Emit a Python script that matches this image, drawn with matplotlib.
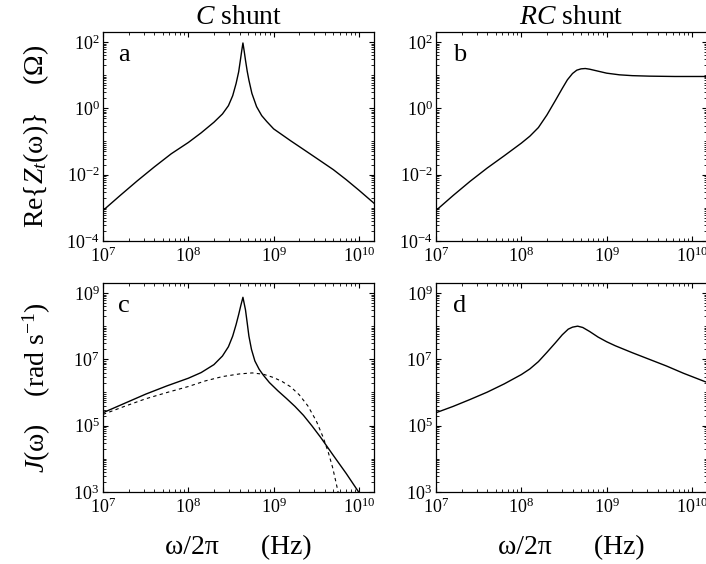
import matplotlib
matplotlib.use('Agg')
import matplotlib.pyplot as plt
import numpy as np
from matplotlib.ticker import FixedLocator, LogLocator, NullFormatter

plt.rcParams['font.family'] = 'Liberation Serif'
plt.rcParams['mathtext.fontset'] = 'custom'
plt.rcParams['mathtext.rm'] = 'Liberation Serif'
plt.rcParams['mathtext.it'] = 'Liberation Serif:italic'

# values, stored as decimal exponents (log10)
# panel a: C shunt, Re{Z_t} (Ohm) vs frequency (Hz)
logf_a = [7.0, 7.2, 7.4, 7.6, 7.8, 8.0, 8.15, 8.3, 8.4, 8.47, 8.52, 8.56,
          8.59, 8.61, 8.625, 8.64, 8.655, 8.67, 8.69, 8.71, 8.745, 8.8,
          8.86, 8.92, 9.0, 9.1, 9.2, 9.31, 9.5, 9.7, 9.85, 10.0, 10.18]
logz_a = [-3.08, -2.63, -2.19, -1.77, -1.37, -1.03, -0.74, -0.42, -0.17,
          0.08, 0.38, 0.75, 1.1, 1.45, 1.72, 1.97, 1.72, 1.45, 1.12, 0.85,
          0.45, 0.05, -0.22, -0.4, -0.62, -0.8, -0.98, -1.17, -1.5, -1.85,
          -2.15, -2.47, -2.87]

# panel b: RC shunt, Re{Z_t} (Ohm)
logf_b = [7.0, 7.2, 7.4, 7.6, 7.8, 8.0, 8.1, 8.2, 8.3, 8.4, 8.48, 8.54, 8.6,
          8.65, 8.7, 8.75, 8.8, 8.9, 9.0, 9.15, 9.3, 9.5, 9.8, 10.2]
logz_b = [-3.08, -2.63, -2.2, -1.8, -1.43, -1.05, -0.84, -0.58, -0.2, 0.24,
          0.6, 0.86, 1.05, 1.15, 1.19, 1.2, 1.18, 1.12, 1.06, 1.01, 0.985,
          0.97, 0.96, 0.96]

# panel c: C shunt, J (rad/s), solid curve
logf_c = [7.0, 7.25, 7.5, 7.75, 8.0, 8.15, 8.3, 8.4, 8.47, 8.52, 8.56, 8.59,
          8.615, 8.64, 8.67, 8.69, 8.71, 8.74, 8.78, 8.83, 8.88, 8.95, 9.05,
          9.15, 9.25, 9.35, 9.45, 9.55, 9.7, 9.85, 9.97, 10.18]
logj_c = [5.39, 5.67, 5.95, 6.2, 6.43, 6.6, 6.84, 7.1, 7.38, 7.7, 8.05, 8.35,
          8.62, 8.87, 8.49, 8.1, 7.7, 7.3, 6.95, 6.7, 6.52, 6.3, 6.05,
          5.82, 5.58, 5.31, 4.99, 4.65, 4.1, 3.56, 3.1, 2.3]

# panel c: dashed curve
logf_c2 = [7.0, 7.25, 7.5, 7.75, 8.0, 8.2, 8.4, 8.6, 8.75, 8.88, 9.0, 9.1,
           9.2, 9.3, 9.4, 9.5, 9.58, 9.64, 9.69, 9.73, 9.755, 9.77]
logj_c2 = [5.34, 5.58, 5.81, 6.0, 6.18, 6.35, 6.48, 6.56, 6.59, 6.55, 6.45,
           6.33, 6.17, 5.93, 5.6, 5.14, 4.65, 4.2, 3.75, 3.3, 3.0, 2.6]

# panel d: RC shunt, J (rad/s)
logf_d = [7.0, 7.2, 7.4, 7.6, 7.8, 8.0, 8.1, 8.2, 8.3, 8.4, 8.48, 8.55, 8.6,
          8.66, 8.72, 8.8, 8.9, 9.0, 9.1, 9.3, 9.5, 9.7, 9.9, 10.18]
logj_d = [5.39, 5.58, 5.79, 6.01, 6.26, 6.54, 6.71, 6.93, 7.21, 7.5, 7.74,
          7.91, 7.97, 8.0, 7.96, 7.84, 7.67, 7.53, 7.41, 7.2, 7.0, 6.8, 6.58,
          6.3]

x_exps = [7, 8, 9, 10]
z_exps = [-4, -2, 0, 2]
j_exps = [3, 5, 7, 9]

W, H = 706, 564
fig = plt.figure(figsize=(W / 100, H / 100), dpi=100)


def add_ax(left, top):
    return fig.add_axes([left / W, 1 - (top + 209) / H, 271 / W, 209 / H])


def style(ax, exps, ylim):
    ax.set_xscale('log')
    ax.set_yscale('log')
    ax.set_xlim(1e7, 1.5e10)
    ax.set_ylim(*ylim)
    ax.xaxis.set_major_locator(FixedLocator([10.0 ** e for e in x_exps]))
    ax.set_xticklabels([r'$10^{%d}$' % e for e in x_exps])
    ax.yaxis.set_major_locator(FixedLocator([10.0 ** e for e in exps]))
    ax.set_yticklabels([r'$10^{%d}$' % e for e in exps])
    for axis in (ax.xaxis, ax.yaxis):
        axis.set_minor_locator(LogLocator(base=10, subs=range(1, 10), numticks=60))
        axis.set_minor_formatter(NullFormatter())
    ax.tick_params(which='both', direction='in', top=True, right=True,
                   labelsize=13)
    ax.tick_params(which='major', length=3.5, width=0.8)
    ax.tick_params(which='minor', length=2, width=0.6)
    ax.tick_params(axis='x', pad=4)
    ax.tick_params(axis='y', pad=2.5)
    for s in ax.spines.values():
        s.set_linewidth(0.9)


def curve(ax, logf, logv, **kw):
    ax.plot(10.0 ** np.array(logf), 10.0 ** np.array(logv), color='black', **kw)


ax_a = add_ax(103, 32)
ax_b = add_ax(436, 32)
ax_c = add_ax(103, 283)
ax_d = add_ax(436, 283)

curve(ax_a, logf_a, logz_a, lw=1.0)
curve(ax_b, logf_b, logz_b, lw=1.0)
curve(ax_c, logf_c, logj_c, lw=1.0)
curve(ax_c, logf_c2, logj_c2, lw=0.8, dashes=(3, 3))
curve(ax_d, logf_d, logj_d, lw=1.0)

for ax in (ax_a, ax_b):
    style(ax, z_exps, (1e-4, 2e2))
for ax in (ax_c, ax_d):
    style(ax, j_exps, (1e3, 2e9))

ax_a.set_title(r'$C$ shunt', fontsize=20, pad=6)
ax_b.set_title(r'$RC$ shunt', fontsize=20, pad=6)

for ax, letter, x in ((ax_a, 'a', 0.055), (ax_b, 'b', 0.062),
                      (ax_c, 'c', 0.055), (ax_d, 'd', 0.062)):
    ax.text(x, 0.862, letter, transform=ax.transAxes, fontsize=19,
            ha='left', va='baseline')

ax_a.set_ylabel(r'Re{$Z_t$(ω)}    (Ω)', fontsize=20)
ax_c.set_ylabel(r'$J$(ω)    (rad s$^{-1}$)', fontsize=20)
for ax in (ax_a, ax_c):
    ax.yaxis.set_label_coords(-0.245, 0.5)
    ax.yaxis.label.set_va('center')

for ax in (ax_c, ax_d):
    ax.set_xlabel('ω/2π      (Hz)', fontsize=20)
    ax.xaxis.set_label_coords(0.5, -0.268)
    ax.xaxis.label.set_va('center')

fig.savefig('out.png', dpi=100)
